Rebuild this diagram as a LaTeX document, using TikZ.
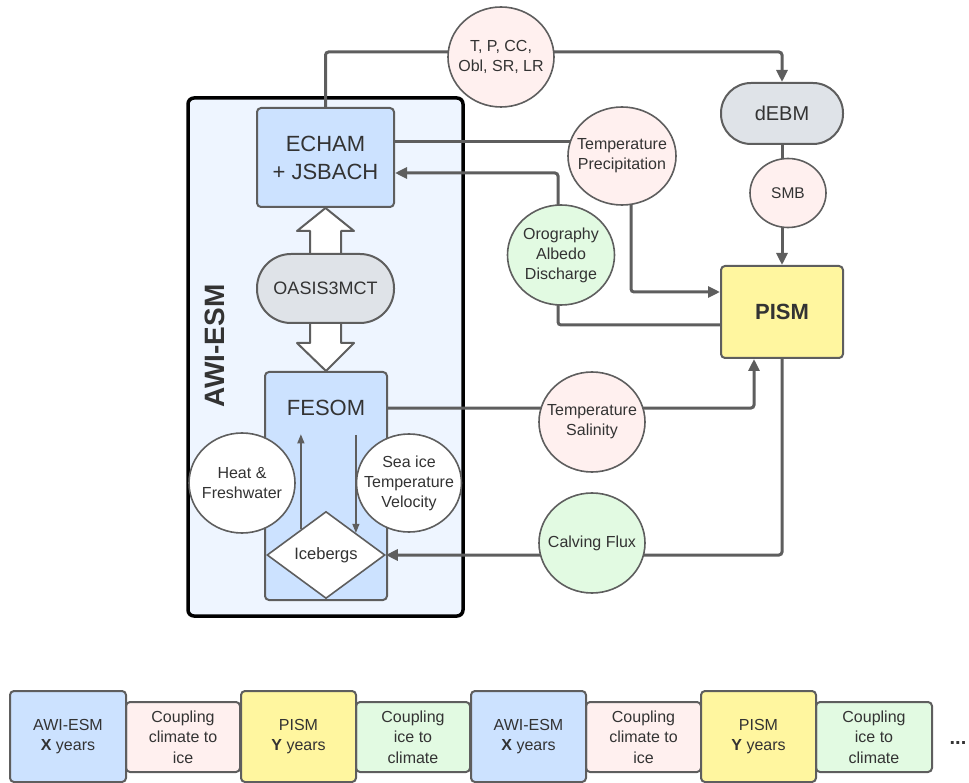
\documentclass[tikz,border=0pt]{standalone}
\usepackage{fontspec}
\setmainfont{Liberation Sans}
\usetikzlibrary{arrows.meta,shapes.geometric,calc}
\definecolor{edge}{HTML}{5E5E5E}
\definecolor{txt}{HTML}{333333}
\definecolor{awibg}{HTML}{EEF5FF}
\definecolor{cblue}{HTML}{CCE2FF}
\definecolor{cgray}{HTML}{DFE3E8}
\definecolor{cpink}{HTML}{FFF0EF}
\definecolor{cgreen}{HTML}{E2FAE2}
\definecolor{cyellow}{HTML}{FFF69F}
\pgfdeclarelayer{back}\pgfdeclarelayer{lines}\pgfsetlayers{back,lines,main}
\begin{document}
\begin{tikzpicture}[x=1pt,y=-1pt,
  box/.style={draw=edge,line width=2pt,rounded corners=4pt,inner sep=0pt,text=txt,align=center},
  circ/.style={ellipse,draw=edge,line width=1.6pt,inner sep=0pt},
  cl/.style={align=center,text=txt,inner sep=0pt,font=\fontsize{16}{20}\selectfont},
  conn/.style={draw=edge,line width=3pt,rounded corners=3pt},
  arr/.style={conn,-{Triangle[length=12pt,width=11pt]}},
  thinarr/.style={draw=edge,line width=1.3pt,-{Triangle[length=9pt,width=7pt]}},
  blockarr/.style={draw=edge,line width=2pt,fill=white,line join=round},
  tl/.style={draw=edge,line width=2pt,rounded corners=4pt,inner sep=0pt,align=center,text=txt,font=\fontsize{16}{20.5}\selectfont}]
\useasboundingbox (0,0) rectangle (969,783);

% ---------- AWI-ESM container ----------
\begin{pgfonlayer}{back}
\node[draw=black,line width=3.5pt,fill=awibg,rounded corners=6pt,minimum width=275pt,minimum height=518pt,inner sep=0pt] (awi) at (325.5,357) {};
\end{pgfonlayer}
\node[rotate=90,text=txt,font=\bfseries\fontsize{28}{30}\selectfont] (awilbl) at (215,346) {AWI-ESM};

% ---------- main nodes ----------
\node[box,fill=cblue,minimum width=137pt,minimum height=99pt,font=\fontsize{22}{28}\selectfont] (echam) at (325.5,157.5) {ECHAM\\+ JSBACH};
\node[box,fill=cgray,rounded corners=34pt,minimum width=137pt,minimum height=69pt,font=\fontsize{18}{20}\selectfont] (oasis) at (325.5,288.5) {OASIS3MCT};
\node[box,fill=cblue,minimum width=122pt,minimum height=228pt] (fesom) at (326,486) {};
\node[text=txt,font=\fontsize{22}{24}\selectfont] (fesomlbl) at (326,408) {FESOM};
\node[circ,fill=white,minimum width=106pt,minimum height=100pt,label={[cl]center:Heat \&\\Freshwater}] (heat) at (242,483) {};
\node[circ,fill=white,minimum width=105pt,minimum height=98pt,label={[cl]center:Sea ice\\Temperature\\Velocity}] (seaice) at (409,483) {};
\node[diamond,draw=edge,line width=1.6pt,fill=white,minimum width=118pt,minimum height=87pt,inner sep=0pt,text=txt,font=\fontsize{16.5}{18}\selectfont] (ice) at (326,555) {Icebergs};

\node[box,fill=cyellow,minimum width=122pt,minimum height=92pt,font=\bfseries\fontsize{22}{24}\selectfont] (pism) at (782,312) {PISM};
\node[box,fill=cgray,rounded corners=30pt,minimum width=122pt,minimum height=61pt,font=\fontsize{20}{22}\selectfont] (debm) at (782,113.5) {dEBM};
\node[circ,fill=cpink,minimum width=76pt,minimum height=69pt,label={[cl,font=\fontsize{15.5}{17}\selectfont]center:SMB}] (smb) at (788,193) {};
\node[circ,fill=cpink,minimum width=106pt,minimum height=100pt,label={[cl]center:T, P, CC,\\Obl, SR, LR}] (tpcc) at (501,57) {};
\node[circ,fill=cpink,minimum width=108pt,minimum height=98pt,label={[cl]center:Temperature\\Precipitation}] (tp) at (622,156) {};
\node[circ,fill=cgreen,minimum width=107pt,minimum height=100pt,label={[cl]center:Orography\\Albedo\\Discharge}] (oro) at (561,255) {};
\node[circ,fill=cpink,minimum width=106pt,minimum height=100pt,label={[cl]center:Temperature\\Salinity}] (ts) at (592,422) {};
\node[circ,fill=cgreen,minimum width=106pt,minimum height=100pt,label={[cl]center:Calving Flux}] (calv) at (592,543) {};

% ---------- connectors ----------
\coordinate (c1) at (501,52);
\coordinate (e1) at ([yshift=15.5pt]echam.east);
\coordinate (e2) at ([yshift=-15.5pt]echam.east);
\coordinate (p2) at ([yshift=-13pt]pism.west);
\coordinate (f1) at (fesomlbl -| fesom.east);
\coordinate (u0) at ($(ice.north)!0.42!(ice.west)$);
\coordinate (d0) at ($(ice.north)!0.5!(ice.east)$);
\begin{pgfonlayer}{lines}
\draw[arr] (echam.north) |- (c1) -| (debm.north);
\draw[conn] (e1) -- (e1 -| tp.center);
\draw[arr] ([xshift=9pt]tp.center) |- ([yshift=20pt]pism.west);
\draw[arr] (p2) -| ([xshift=-3pt]oro.center) |- (e2);
\draw[arr] (f1) -| ([xshift=-28pt]pism.south);
\draw[arr] (pism.south) |- (ice.east);
\draw[arr] (debm.south) -- (pism.north);
% block double arrow through OASIS3MCT
\draw[blockarr] (echam.south) -- (354,231) -- (341,231) -- (341,258) -- (310,258) -- (310,231) -- (297,231) -- cycle;
\draw[blockarr] (310,320) -- (341,320) -- (341,343) -- (354,343) -- (fesom.north) -- (297,343) -- (310,343) -- cycle;
\end{pgfonlayer}
\draw[thinarr] (u0) -- ($(u0)+(0,-95)$);
\draw[thinarr] ($(d0)+(0,-98)$) -- (d0);

% ---------- timeline ----------
\node[tl,fill=cpink,minimum width=114pt,minimum height=70pt] (p1) at (183,737) {Coupling\\climate to\\ice};
\node[tl,fill=cgreen,minimum width=114pt,minimum height=70pt] (g1) at (413,737) {Coupling\\ice to\\climate};
\node[tl,fill=cpink,minimum width=115pt,minimum height=70pt] (p2b) at (643.5,737) {Coupling\\climate to\\ice};
\node[tl,fill=cgreen,minimum width=116pt,minimum height=70pt] (g2) at (874,737) {Coupling\\ice to\\climate};
\node[tl,fill=cblue,minimum width=116pt,minimum height=91pt] (b1) at (68,736.5) {AWI-ESM\\\textbf{X} years};
\node[tl,fill=cyellow,minimum width=115pt,minimum height=91pt] (y1) at (298.5,736.5) {PISM\\\textbf{Y} years};
\node[tl,fill=cblue,minimum width=115pt,minimum height=91pt] (b2) at (528.5,736.5) {AWI-ESM\\\textbf{X} years};
\node[tl,fill=cyellow,minimum width=115pt,minimum height=91pt] (y2) at (758.5,736.5) {PISM\\\textbf{Y} years};
\node[anchor=base,text=txt,font=\bfseries\fontsize{20}{22}\selectfont,inner sep=0pt] (dots) at (958,744) {...};
\end{tikzpicture}
\end{document}
